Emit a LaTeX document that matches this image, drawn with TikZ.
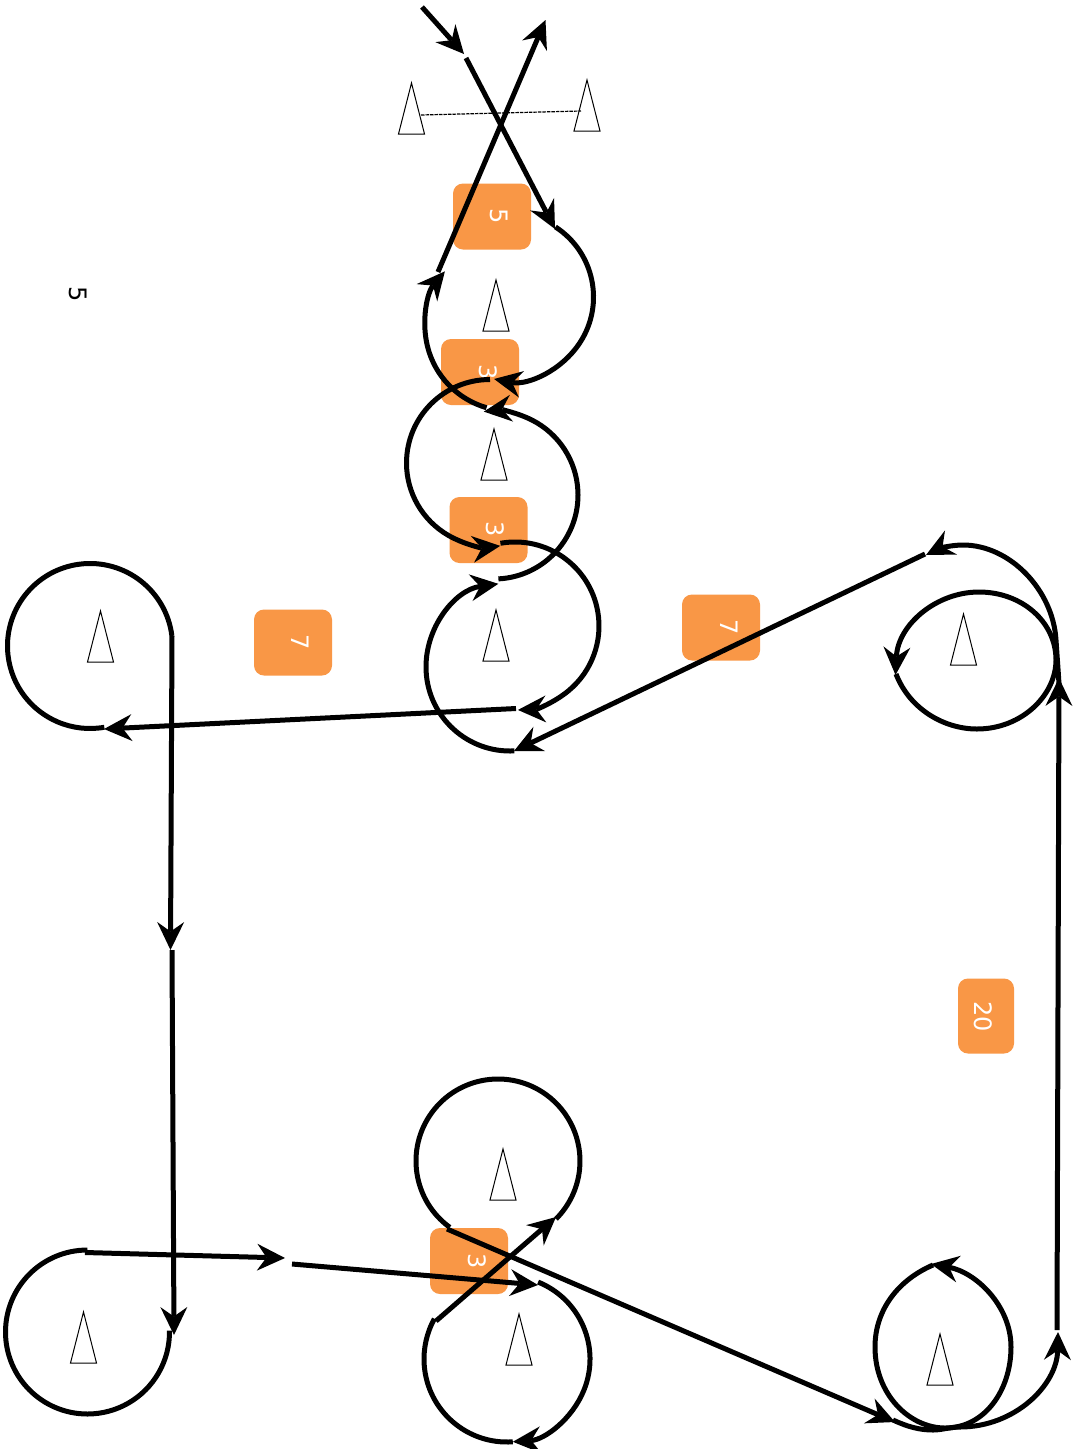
\documentclass[tikz,border=0pt]{standalone}
\usepackage{fontspec}
\setmainfont{DejaVu Sans}
\usetikzlibrary{arrows.meta,calc}
\tikzset{
  wire/.style={draw=black,line width=5pt,line cap=butt,line join=round},
  tipped/.style={wire,-{Stealth[length=28pt,width=27pt,inset=9.5pt,line width=0pt]}},
  buoyline/.style={draw=black,line width=1pt,fill=white,line join=miter},
  guide/.style={draw=black,line width=1.2pt,dash pattern=on 3.5pt off 1pt},
  orangebox/.style={fill=boxorange,draw=none,rounded corners=10pt,inner sep=0pt},
  boxlabel/.style={text=white,font=\fontsize{24}{24}\selectfont,rotate=-90,inner sep=0pt},
  plainlabel/.style={text=black,font=\fontsize{24}{24}\selectfont,rotate=-90,inner sep=0pt}
}
\definecolor{boxorange}{HTML}{F99746}
\newcommand\buoy[3]{%
  \coordinate (#1) at (#2,#3);
  \draw[buoyline] (#1) -- ++(13,51) -- ++(-26,0) -- cycle;}
\newcommand\arcwire[7][wire]{%
  \coordinate (#2c) at (#3,#4);
  \coordinate (#2s) at ($(#2c)+(#6:#5)$);
  \draw[#1] (#2s) arc[start angle=#6,end angle=#7,radius=#5];}
\begin{document}
\begin{tikzpicture}[x=1pt,y=1pt,yscale=-1]
\useasboundingbox (0,0) rectangle (1075,1449);
\fill[white] (0,0) rectangle (1075,1449);

% orange boxes
\node[orangebox,minimum width=78pt,minimum height=66pt] (boxA) at (492,216.5) {};
\node[orangebox,minimum width=78pt,minimum height=66pt] (boxB) at (480,372) {};
\node[orangebox,minimum width=78pt,minimum height=66pt] (boxC) at (488.5,530) {};
\node[orangebox,minimum width=78pt,minimum height=66pt] (boxD) at (293,642.5) {};
\node[orangebox,minimum width=78pt,minimum height=66pt] (boxE) at (721,627.5) {};
\node[orangebox,minimum width=56pt,minimum height=75pt] (boxF) at (986,1016) {};
\node[orangebox,minimum width=78pt,minimum height=66pt] (boxG) at (469,1261) {};
\node[boxlabel] (labA) at (499,216.5) {5};
\node[boxlabel] (labB) at (488,372) {3};
\node[boxlabel] (labC) at (495,529) {3};
\node[boxlabel] (labD) at (300,642.5) {7};
\node[boxlabel] (labE) at (729,627.5) {7};
\node[boxlabel] (labF) at (983,1016.5) {20};
\node[boxlabel] (labG) at (477,1261) {3};
\node[plainlabel] (labH) at (78,294) {5};

% buoys
\buoy{b1}{411.5}{83}
\buoy{b2}{587}{80}
\buoy{b3}{496}{280}
\buoy{b4}{494}{429}
\buoy{b5}{496}{610}
\buoy{b6}{100.5}{611}
\buoy{b7}{963.5}{614}
\buoy{b8}{503}{1149}
\buoy{b9}{519}{1314}
\buoy{b10}{940}{1334}
\buoy{b11}{83.5}{1312}

\coordinate (gateL) at (421,115);
\coordinate (gateR) at (581,111);
\draw[guide] (gateL) -- (gateR);

% named free ends
\coordinate (p1) at (422,7);
\coordinate (p2) at (464,54);
\coordinate (p3) at (466,58);
\coordinate (p4) at (555,229);
\coordinate (p5) at (438,272);
\coordinate (p6) at (545.5,20);
\coordinate (p7) at (516,708.5);
\coordinate (p8) at (104,729);
\coordinate (p9) at (925,554);
\coordinate (p10) at (514,751);
\coordinate (p11) at (1057,1330);
\coordinate (p12) at (1059,678);
\coordinate (p13) at (172,636);
\coordinate (p14) at (170.5,950);
\coordinate (p15) at (172,950);
\coordinate (p16) at (174,1335);
\coordinate (p17) at (85,1252.5);
\coordinate (p18) at (285,1258);
\coordinate (p19) at (292,1264);
\coordinate (p20) at (538,1285);
\coordinate (p21) at (436,1321);
\coordinate (p22) at (556,1217);
\coordinate (p23) at (447,1229);
\coordinate (p24) at (895,1422);

% straight legs
\draw[tipped] (p1) -- (p2);
\draw[tipped] (p3) -- (p4);
\draw[tipped] (p5) -- (p6);
\draw[tipped] (p7) -- (p8);
\draw[tipped] (p9) -- (p10);
\draw[tipped] (p11) -- (p12);
\draw[tipped] (p13) -- (p14);
\draw[tipped] (p15) -- (p16);
\draw[tipped] (p17) -- (p18);
\draw[tipped] (p19) -- (p20);
\draw[tipped] (p21) -- (p22);
\draw[tipped] (p23) -- (p24);

% arcs around the top buoys
\arcwire[tipped]{a1}{510}{297}{83.5}{-57}{101}
\arcwire[tipped]{a2}{510}{326}{85}{106}{220}
\arcwire[tipped]{a3}{490}{463}{83.5}{270}{83}
\arcwire[tipped]{a4}{494}{495}{84}{87}{-97}
\arcwire[tipped]{a5}{515}{626}{84}{-100}{88}
\arcwire[tipped]{a6}{510}{667}{84}{87}{262}
% left loops
\arcwire{a7}{90}{646}{82.5}{-7}{-280}
\arcwire{a8}{87.5}{1332}{82}{270}{-1}
% lower centre loops
\arcwire{a9}{498}{1161}{82}{126}{405}
\arcwire[tipped]{a10}{507}{1359}{83}{-68}{86}
\arcwire{a11}{507}{1359}{83}{86}{209}

% right-hand upper loops
\coordinate (r1) at (1059,684);
\coordinate (r2) at (926,555);
\draw[tipped] (r1) .. controls (1058,668) and (1057,655) .. (1056,640)
   .. controls (1053,590) and (1010,545) .. (963,545)
   .. controls (950,545) and (938,549) .. (r2);
\coordinate (r3) at (896,674);
\draw[tipped] (r3) .. controls (910,710) and (945,729) .. (977,729)
   .. controls (1022,729) and (1056,695) .. (1056,660)
   .. controls (1056,622) and (1022,592) .. (979,592)
   .. controls (936,592) and (898,625) .. (895.5,675);

% right-hand lower loops
\coordinate (r4) at (893,1420);
\coordinate (r5) at (1058,1332);
\draw[wire] (r4) .. controls (908,1427) and (920,1430) .. (933,1430)
   .. controls (942,1430) and (950,1427) .. (960,1427);
\coordinate (r8) at (960,1427);
\draw[tipped] (r8) .. controls (1015,1427) and (1057,1385) .. (r5);
\coordinate (r6) at (933,1265);
\coordinate (r7) at (931,1264);
\draw[tipped] (r6) .. controls (898,1280) and (875,1310) .. (875,1347)
   .. controls (875,1395) and (910,1428) .. (945,1428)
   .. controls (985,1428) and (1011,1390) .. (1011,1347)
   .. controls (1011,1305) and (975,1272) .. (r7);
\end{tikzpicture}
\end{document}
